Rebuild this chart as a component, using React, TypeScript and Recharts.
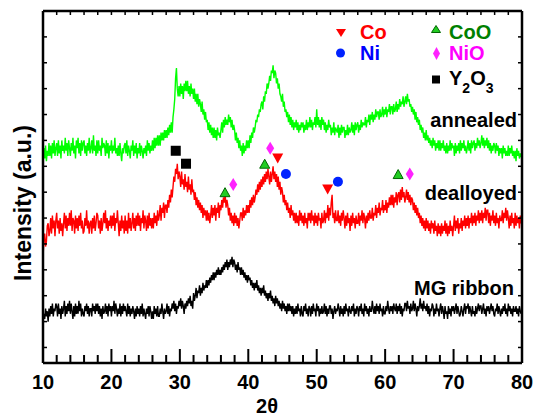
import React from 'react';
import { ComposedChart, Line, Scatter, XAxis, YAxis } from 'recharts';

// scan: 10° to 80° in 0.125° steps, intensity in arbitrary units (offset traces)
const X_START = 10;
const X_STEP = 0.125;

const ANNEALED = [
  77, 83, 79, 84, 78, 82, 80, 85, 80, 84, 79, 85, 81, 86, 80, 83,
  85, 80, 86, 81, 84, 79, 86, 82, 84, 81, 87, 82, 85, 80, 86, 83,
  80, 85, 82, 87, 81, 84, 79, 86, 83, 87, 81, 85, 80, 86, 82, 85,
  86, 81, 84, 80, 85, 82, 87, 81, 83, 86, 81, 88, 82, 84, 80, 86,
  81, 86, 82, 84, 80, 87, 83, 85, 84, 80, 86, 81, 85, 79, 84, 82,
  86, 81, 84, 82, 87, 81, 83, 80, 84, 80, 85, 81, 78, 83, 81, 84,
  85, 81, 86, 80, 84, 82, 79, 84, 82, 86, 80, 84, 81, 85, 79, 83,
  81, 85, 80, 84, 82, 79, 83, 81, 84, 80, 86, 82, 85, 81, 84, 82,
  86, 82, 87, 83, 87, 84, 88, 84, 88, 84, 89, 86, 89, 86, 90, 87,
  90, 87, 91, 88, 92, 89, 93, 89, 95, 98, 102, 110, 114, 106, 103, 107,
  103, 108, 104, 107, 102, 108, 105, 109, 105, 109, 104, 107, 103, 108, 104, 106,
  102, 106, 101, 104, 100, 104, 99, 102, 100, 97, 101, 96, 98, 94, 97, 93,
  94, 90, 93, 89, 92, 88, 91, 87, 91, 87, 90, 86, 91, 88, 89, 87,
  90, 93, 89, 94, 91, 95, 92, 94, 92, 96, 93, 95, 91, 94, 90, 92,
  90, 86, 89, 85, 87, 83, 86, 82, 84, 80, 85, 81, 84, 82, 86, 83,
  86, 83, 88, 85, 89, 87, 91, 89, 91, 94, 93, 96, 95, 98, 97, 100,
  101, 98, 103, 101, 105, 104, 108, 106, 108, 111, 109, 113, 112, 115, 110, 113,
  112, 108, 110, 106, 108, 104, 103, 101, 104, 99, 101, 97, 98, 95, 97, 93,
  96, 92, 95, 91, 94, 90, 93, 91, 94, 90, 93, 89, 92, 90, 93, 91,
  93, 89, 92, 90, 94, 90, 93, 91, 95, 91, 94, 90, 93, 92, 95, 91,
  98, 92, 95, 91, 94, 90, 95, 92, 94, 90, 93, 89, 92, 90, 94, 91,
  92, 88, 91, 89, 93, 88, 91, 90, 89, 92, 87, 91, 88, 92, 89, 91,
  91, 87, 90, 88, 92, 88, 91, 89, 90, 93, 89, 92, 88, 93, 90, 92,
  93, 89, 92, 90, 94, 91, 93, 92, 92, 95, 91, 94, 93, 96, 92, 96,
  94, 97, 93, 96, 94, 98, 95, 97, 97, 94, 98, 95, 96, 99, 95, 98,
  96, 99, 95, 98, 97, 100, 96, 99, 99, 96, 100, 97, 98, 101, 97, 100,
  98, 102, 99, 101, 100, 103, 99, 101, 103, 100, 104, 101, 102, 99, 100, 97,
  99, 96, 98, 94, 97, 93, 95, 92, 94, 90, 92, 89, 91, 87, 89, 86,
  90, 86, 88, 85, 87, 84, 86, 83, 87, 84, 86, 82, 85, 83, 86, 82,
  86, 82, 85, 83, 86, 82, 84, 81, 85, 81, 84, 82, 86, 82, 85, 83,
  84, 80, 85, 81, 84, 82, 85, 81, 86, 82, 85, 83, 86, 82, 84, 81,
  83, 86, 82, 85, 81, 86, 83, 85, 86, 82, 85, 83, 87, 84, 86, 83,
  85, 88, 84, 87, 83, 86, 84, 87, 83, 86, 82, 85, 81, 84, 82, 85,
  84, 81, 85, 82, 84, 80, 83, 81, 83, 79, 84, 81, 83, 80, 82, 80,
  84, 80, 83, 81, 84, 80, 82, 79, 82, 78, 83, 80, 82, 79, 81, 80,
  81,
];

const DEALLOYED = [
  40, 48, 50, 45, 47, 53, 54, 49, 51, 56, 50, 57, 52, 55, 49, 55,
  58, 52, 55, 50, 56, 51, 54, 49, 54, 58, 52, 57, 51, 56, 53, 58,
  53, 59, 51, 56, 55, 50, 57, 52, 56, 51, 57, 53, 58, 52, 55, 50,
  51, 56, 53, 59, 52, 55, 50, 54, 55, 50, 56, 52, 57, 51, 54, 58,
  57, 52, 55, 50, 56, 51, 54, 58, 54, 59, 52, 56, 51, 55, 53, 57,
  52, 57, 53, 58, 51, 56, 54, 59, 54, 49, 55, 51, 57, 52, 55, 50,
  57, 51, 55, 50, 58, 52, 56, 51, 54, 58, 52, 56, 51, 57, 53, 58,
  53, 57, 51, 56, 54, 59, 52, 57, 55, 51, 57, 52, 58, 53, 56, 52,
  56, 52, 58, 54, 57, 53, 59, 55, 57, 61, 55, 60, 58, 62, 56, 61,
  61, 58, 63, 60, 65, 62, 67, 64, 68, 72, 70, 75, 73, 77, 71, 74,
  72, 68, 74, 69, 71, 67, 73, 68, 70, 66, 72, 67, 69, 65, 71, 66,
  67, 63, 66, 61, 64, 60, 63, 59, 62, 58, 61, 56, 60, 57, 59, 55,
  59, 55, 58, 54, 57, 61, 56, 60, 57, 61, 55, 60, 58, 62, 56, 61,
  59, 63, 60, 64, 62, 65, 60, 63, 61, 57, 60, 55, 58, 54, 57, 53,
  58, 54, 57, 53, 56, 52, 55, 58, 58, 55, 60, 56, 59, 57, 61, 58,
  61, 58, 63, 60, 64, 61, 65, 62, 64, 67, 65, 69, 66, 70, 67, 71,
  68, 72, 69, 73, 70, 74, 71, 75, 72, 69, 74, 70, 73, 76, 71, 74,
  70, 73, 68, 72, 67, 70, 65, 68, 66, 62, 65, 61, 63, 59, 62, 58,
  60, 56, 61, 57, 59, 55, 58, 54, 58, 54, 57, 53, 59, 55, 58, 54,
  57, 53, 58, 54, 56, 52, 58, 55, 58, 54, 59, 55, 57, 53, 58, 54,
  57, 53, 58, 55, 56, 52, 58, 54, 55, 59, 54, 58, 56, 61, 55, 60,
  57, 62, 65, 56, 58, 54, 59, 55, 55, 59, 54, 57, 53, 58, 55, 59,
  56, 52, 57, 53, 58, 54, 56, 51, 57, 53, 58, 54, 56, 52, 57, 54,
  54, 58, 53, 57, 55, 59, 54, 58, 56, 52, 57, 54, 58, 55, 59, 56,
  56, 60, 55, 58, 57, 61, 56, 60, 58, 62, 57, 60, 59, 63, 58, 61,
  59, 63, 58, 62, 60, 64, 61, 65, 61, 65, 60, 64, 62, 66, 61, 65,
  66, 62, 67, 63, 68, 64, 66, 62, 64, 67, 63, 66, 62, 65, 61, 64,
  63, 59, 62, 58, 61, 57, 60, 56, 58, 54, 57, 53, 56, 52, 55, 51,
  56, 52, 55, 51, 54, 50, 55, 52, 54, 50, 55, 51, 53, 49, 54, 50,
  53, 49, 54, 50, 53, 51, 55, 50, 54, 49, 53, 50, 55, 51, 53, 49,
  53, 57, 51, 55, 52, 56, 50, 54, 52, 56, 51, 55, 53, 57, 52, 56,
  53, 57, 52, 56, 54, 58, 53, 57, 54, 58, 53, 57, 55, 59, 54, 58,
  55, 59, 54, 58, 56, 60, 55, 59, 59, 54, 58, 53, 57, 55, 59, 54,
  57, 53, 58, 54, 56, 52, 57, 55, 55, 59, 54, 58, 56, 60, 55, 59,
  56, 52, 57, 53, 58, 54, 56, 52, 58, 53, 57, 54, 56, 52, 57, 54,
  55,
];

const RIBBON = [
  15, 19, 17, 21, 18, 20, 16, 21, 18, 22, 19, 23, 18, 21, 20, 23,
  22, 18, 23, 19, 21, 17, 22, 19, 21, 24, 18, 22, 19, 23, 20, 24,
  19, 23, 20, 17, 22, 18, 23, 19, 22, 19, 24, 20, 23, 18, 21, 19,
  18, 22, 20, 23, 19, 22, 18, 21, 21, 18, 23, 20, 22, 19, 23, 20,
  23, 19, 22, 18, 21, 17, 22, 19, 20, 23, 19, 22, 18, 23, 20, 22,
  18, 22, 20, 24, 19, 23, 21, 18, 21, 19, 23, 18, 22, 19, 23, 20,
  22, 20, 18, 23, 19, 22, 18, 21, 19, 22, 20, 17, 21, 18, 22, 19,
  21, 18, 22, 19, 23, 18, 21, 19, 17, 21, 19, 22, 18, 22, 20, 17,
  20, 17, 22, 19, 21, 18, 22, 18, 18, 21, 19, 23, 20, 17, 21, 19,
  20, 23, 19, 22, 18, 21, 20, 23, 21, 24, 20, 23, 19, 22, 21, 24,
  22, 25, 21, 24, 22, 19, 23, 21, 24, 22, 25, 23, 26, 22, 24, 21,
  27, 24, 26, 29, 25, 28, 27, 30, 26, 29, 27, 31, 28, 30, 29, 32,
  29, 32, 30, 33, 31, 34, 32, 35, 32, 35, 33, 36, 34, 37, 34, 36,
  34, 37, 35, 38, 36, 39, 37, 40, 36, 39, 37, 40, 38, 41, 37, 40,
  39, 36, 38, 35, 39, 36, 37, 34, 37, 34, 36, 33, 35, 32, 34, 31,
  34, 32, 33, 30, 32, 29, 31, 28, 31, 29, 32, 28, 30, 27, 29, 26,
  29, 27, 30, 26, 28, 25, 27, 24, 27, 25, 28, 24, 26, 23, 25, 22,
  26, 23, 25, 22, 24, 21, 23, 20, 24, 21, 23, 20, 22, 19, 23, 20,
  23, 20, 22, 19, 22, 18, 21, 19, 22, 19, 23, 20, 21, 18, 22, 19,
  18, 22, 20, 23, 19, 21, 18, 22, 21, 18, 22, 19, 23, 20, 21, 18,
  23, 20, 22, 18, 21, 19, 22, 19, 20, 23, 19, 22, 18, 21, 19, 22,
  22, 19, 21, 17, 20, 22, 19, 21, 20, 23, 21, 18, 22, 19, 21, 18,
  22, 19, 23, 20, 21, 18, 22, 20, 19, 22, 20, 23, 18, 21, 19, 22,
  21, 18, 22, 20, 23, 19, 21, 18, 23, 20, 22, 19, 21, 18, 22, 20,
  20, 24, 21, 19, 22, 19, 23, 20, 22, 19, 23, 20, 21, 18, 22, 19,
  19, 22, 20, 24, 21, 19, 22, 20, 22, 19, 23, 21, 20, 23, 19, 22,
  20, 23, 19, 22, 18, 21, 20, 23, 23, 20, 24, 21, 22, 19, 23, 20,
  21, 24, 20, 23, 21, 18, 22, 20, 22, 25, 21, 23, 20, 24, 21, 22,
  20, 23, 19, 22, 18, 21, 20, 23, 22, 18, 21, 19, 23, 20, 21, 18,
  21, 23, 19, 22, 20, 17, 22, 19, 20, 17, 22, 19, 21, 18, 22, 20,
  22, 19, 21, 23, 19, 22, 20, 18, 19, 22, 20, 18, 21, 23, 19, 22,
  21, 23, 19, 22, 20, 18, 22, 19, 20, 18, 22, 19, 21, 23, 20, 22,
  22, 19, 21, 23, 19, 21, 18, 22, 20, 22, 19, 21, 23, 20, 22, 19,
  18, 21, 20, 23, 19, 22, 20, 18, 21, 19, 22, 20, 23, 19, 21, 18,
  23, 20, 22, 19, 21, 18, 22, 20, 20, 22, 19, 21, 18, 22, 20, 19,
  21,
];

// phase markers (2θ, height above trace)
const CO_PEAKS = [{ x: 44.3, y: 79 }, { x: 51.6, y: 67 }];
const NI_PEAKS = [{ x: 45.5, y: 73 }, { x: 53.1, y: 70 }];
const COO_PEAKS = [{ x: 42.4, y: 77 }, { x: 36.6, y: 66 }, { x: 61.9, y: 73 }];
const NIO_PEAKS = [{ x: 43.2, y: 83 }, { x: 37.8, y: 69 }, { x: 63.6, y: 73 }];
const Y2O3_PEAKS = [{ x: 29.4, y: 82 }, { x: 30.9, y: 77 }];

const X_TICKS = [10, 12, 14, 16, 18, 20, 22, 24, 26, 28, 30, 32, 34, 36, 38, 40, 42, 44,
  46, 48, 50, 52, 54, 56, 58, 60, 62, 64, 66, 68, 70, 72, 74, 76, 78, 80];
const Y_TICKS = [6, 16, 26, 36, 46, 56, 66, 76, 86, 96, 106, 116, 126];

const rows = ANNEALED.map((v, i) => ({
  x: X_START + i * X_STEP,
  annealed: v,
  dealloyed: DEALLOYED[i],
  ribbon: RIBBON[i],
}));

const FONT = '"Liberation Sans", Arial, sans-serif';

const DownTri = ({ cx, cy, w, h, fill }: any) => (
  <path d={`M${cx - w / 2},${cy - h / 2}L${cx + w / 2},${cy - h / 2}L${cx},${cy + h / 2}Z`} fill={fill} />
);
const UpTri = ({ cx, cy, w, h }: any) => (
  <path d={`M${cx},${cy - h / 2}L${cx + w / 2},${cy + h / 2}L${cx - w / 2},${cy + h / 2}Z`}
    fill="#22cc22" stroke="#006600" strokeWidth={1} />
);
const Diamond = ({ cx, cy, w, h }: any) => (
  <path d={`M${cx},${cy - h / 2}L${cx + w / 2},${cy}L${cx},${cy + h / 2}L${cx - w / 2},${cy}Z`} fill="#ff22ff" />
);
const Dot = ({ cx, cy, r }: any) => <circle cx={cx} cy={cy} r={r} fill="#0022ff" />;
const Square = ({ cx, cy, s }: any) => <rect x={cx - s / 2} y={cy - s / 2} width={s} height={s} fill="#000" />;

const BottomTick = ({ x, y, payload }: any) => {
  const major = payload.value % 10 === 0;
  return (
    <g>
      <line x1={x} y1={y} x2={x} y2={y - (major ? 14 : 8)} stroke="#000" strokeWidth={2} />
      {major && (
        <text x={x} y={y + 26} textAnchor="middle" fontSize={20} fontWeight="bold" fontFamily={FONT} fill="#000">
          {payload.value}
        </text>
      )}
    </g>
  );
};
const TopTick = ({ x, y }: any) => <line x1={x} y1={y} x2={x} y2={y + 4} stroke="#000" strokeWidth={1.5} />;
const LeftTick = ({ x, y }: any) => <line x1={x} y1={y} x2={x + 4} y2={y} stroke="#000" strokeWidth={1.5} />;
const RightTick = ({ x, y }: any) => <line x1={x} y1={y} x2={x - 4} y2={y} stroke="#000" strokeWidth={1.5} />;

const axisLine = { stroke: '#000', strokeWidth: 2.5 };

export default function App() {
  return (
    <div style={{ position: 'absolute', left: 0, top: 0, width: 535, height: 419, background: '#fff' }}>
      <ComposedChart width={535} height={419} data={rows} margin={{ top: 10, right: 12, bottom: 0, left: 42 }}>
        <XAxis xAxisId="b" dataKey="x" type="number" domain={[10, 80]} ticks={X_TICKS} interval={0}
          allowDataOverflow height={56} tickSize={0} tickMargin={0} tickLine={false}
          axisLine={axisLine} tick={<BottomTick />} />
        <XAxis xAxisId="t" orientation="top" dataKey="x" type="number" domain={[10, 80]} ticks={X_TICKS}
          interval={0} allowDataOverflow height={1} tickSize={0} tickMargin={0} tickLine={false}
          axisLine={axisLine} tick={<TopTick />} />
        <YAxis yAxisId="l" type="number" domain={[0, 136]} ticks={Y_TICKS} interval={0} allowDataOverflow
          width={1} tickSize={0} tickMargin={0} tickLine={false} axisLine={axisLine} tick={<LeftTick />} />
        <YAxis yAxisId="r" orientation="right" type="number" domain={[0, 136]} ticks={Y_TICKS} interval={0}
          allowDataOverflow width={1} tickSize={0} tickMargin={0} tickLine={false} axisLine={axisLine}
          tick={<RightTick />} />

        <Line xAxisId="b" yAxisId="l" dataKey="ribbon" type="linear" stroke="#000" strokeWidth={1.4}
          dot={false} isAnimationActive={false} />
        <Line xAxisId="b" yAxisId="l" dataKey="dealloyed" type="linear" stroke="#ff0000" strokeWidth={1.4}
          dot={false} isAnimationActive={false} />
        <Line xAxisId="b" yAxisId="l" dataKey="annealed" type="linear" stroke="#00ff00" strokeWidth={1.4}
          dot={false} isAnimationActive={false} />

        <Scatter xAxisId="b" yAxisId="l" data={Y2O3_PEAKS} dataKey="y" isAnimationActive={false}
          shape={(p: any) => <Square cx={p.cx} cy={p.cy} s={10} />} />
        <Scatter xAxisId="b" yAxisId="l" data={COO_PEAKS} dataKey="y" isAnimationActive={false}
          shape={(p: any) => <UpTri cx={p.cx} cy={p.cy} w={10} h={9} />} />
        <Scatter xAxisId="b" yAxisId="l" data={NIO_PEAKS} dataKey="y" isAnimationActive={false}
          shape={(p: any) => <Diamond cx={p.cx} cy={p.cy} w={8} h={13} />} />
        <Scatter xAxisId="b" yAxisId="l" data={CO_PEAKS} dataKey="y" isAnimationActive={false}
          shape={(p: any) => <DownTri cx={p.cx} cy={p.cy} w={11} h={10} fill="#ff0000" />} />
        <Scatter xAxisId="b" yAxisId="l" data={NI_PEAKS} dataKey="y" isAnimationActive={false}
          shape={(p: any) => <Dot cx={p.cx} cy={p.cy} r={5} />} />
      </ComposedChart>

      <svg width={535} height={419} style={{ position: 'absolute', left: 0, top: 0, pointerEvents: 'none' }}
        fontFamily={FONT} fontWeight="bold">
        {/* legend */}
        <DownTri cx={341} cy={33} w={10} h={8} fill="#ff0000" />
        <text x={360} y={39} fontSize={20} fill="#ff0000">Co</text>
        <UpTri cx={436} cy={29} w={9} h={7} />
        <text x={449} y={39} fontSize={20} fill="#008000">CoO</text>
        <Dot cx={340.5} cy={53} r={4.5} />
        <text x={360} y={60} fontSize={20} fill="#0000ff">Ni</text>
        <Diamond cx={436.5} cy={53.5} w={7} h={13} />
        <text x={449} y={60} fontSize={20} fill="#ff00ff">NiO</text>
        <Square cx={436} cy={79.5} s={8} />
        <text x={449} y={85} fontSize={20} fill="#000">
          Y<tspan fontSize={14} dy={8}>2</tspan><tspan dy={-8}>O</tspan><tspan fontSize={14} dy={8}>3</tspan>
        </text>

        {/* trace labels */}
        <text x={517} y={127} fontSize={20} textAnchor="end" fill="#000">annealed</text>
        <text x={517} y={200} fontSize={20} textAnchor="end" fill="#000">dealloyed</text>
        <text x={514} y={295} fontSize={20} textAnchor="end" fill="#000">MG ribbon</text>

        {/* axis titles */}
        <text x={267} y={413} fontSize={20} textAnchor="middle" fill="#000">2θ</text>
        <text x={31} y={203} fontSize={23} textAnchor="middle" fill="#000" transform="rotate(-90 31 203)">
          Intensity (a.u.)
        </text>
      </svg>
    </div>
  );
}
